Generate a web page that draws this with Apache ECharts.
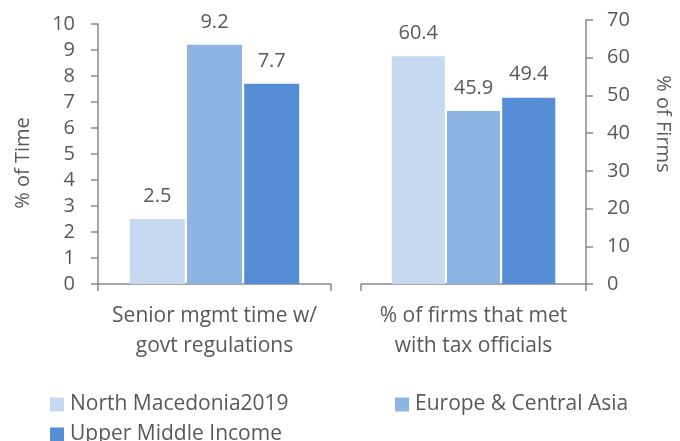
<!DOCTYPE html>
<html>
<head>
<meta charset="utf-8">
<script src="https://cdn.jsdelivr.net/npm/echarts@6/dist/echarts.min.js"></script>
<style>
  html, body { margin: 0; padding: 0; background: #fff; }
  #chart { width: 680px; height: 441px; }
</style>
</head>
<body>
<div id="chart"></div>
<script>
// Series names and colours
const seriesNames = ['North Macedonia2019', 'Europe & Central Asia', 'Upper Middle Income'];
const seriesColors = ['#c6d9f0', '#8eb4e3', '#558ed5'];

// Left panel: time spent on regulations
const timeCategory = ['Senior mgmt time w/\ngovt regulations'];
const timeValues = [2.5, 9.2, 7.7];

// Right panel: meetings with tax officials
const firmsCategory = ['% of firms that met\nwith tax officials'];
const firmsValues = [60.4, 45.9, 49.4];

const FONT = 'Open Sans';
const TXT = '#595959';
const AXIS = '#898989';

const chart = echarts.init(document.getElementById('chart'), null, { renderer: 'canvas' });

function barSeries(values, gridIndex) {
  return values.map((v, i) => ({
    name: seriesNames[i],
    type: 'bar',
    xAxisIndex: gridIndex,
    yAxisIndex: gridIndex,
    data: [v],
    barWidth: '23.6%',
    barGap: '4%',
    itemStyle: { color: seriesColors[i] },
    label: {
      show: true,
      position: 'top',
      distance: 13,
      color: TXT,
      fontFamily: FONT,
      fontSize: 20
    },
    emphasis: { disabled: true }
  }));
}

function xAxisFor(cats, gridIndex) {
  return {
    type: 'category',
    gridIndex: gridIndex,
    data: cats,
    boundaryGap: true,
    axisLine: { show: true, lineStyle: { color: AXIS, width: 1.5 } },
    axisTick: { show: true, length: 7, lineStyle: { color: AXIS, width: 1.5 } },
    axisLabel: {
      color: TXT, fontFamily: FONT, fontSize: 21, lineHeight: 30, margin: 17
    }
  };
}

function legendFor(name, left, top) {
  return {
    data: [name],
    left: left,
    top: top,
    orient: 'horizontal',
    icon: 'rect',
    itemWidth: 14,
    itemHeight: 14,
    itemGap: 6,
    padding: 0,
    selectedMode: false,
    textStyle: { color: TXT, fontFamily: FONT, fontSize: 21, padding: [0, 0, 0, 1] }
  };
}

chart.setOption({
  animation: false,
  backgroundColor: '#ffffff',
  grid: [
    { left: 98, top: 24, width: 233, height: 260 },
    { left: 361, top: 20, width: 225, height: 264 }
  ],
  xAxis: [xAxisFor(timeCategory, 0), xAxisFor(firmsCategory, 1)],
  yAxis: [
    {
      type: 'value', gridIndex: 0, min: 0, max: 10, interval: 1,
      axisLine: { show: true, lineStyle: { color: AXIS, width: 1.5 } },
      axisTick: { show: true, length: 7, lineStyle: { color: AXIS, width: 1.5 } },
      splitLine: { show: false },
      axisLabel: { color: TXT, fontFamily: FONT, fontSize: 20, margin: 23 }
    },
    {
      type: 'value', gridIndex: 1, position: 'right', min: 0, max: 70, interval: 10,
      axisLine: { show: true, lineStyle: { color: AXIS, width: 1.5 } },
      axisTick: { show: true, length: 7, lineStyle: { color: AXIS, width: 1.5 } },
      splitLine: { show: false },
      axisLabel: { color: TXT, fontFamily: FONT, fontSize: 20, margin: 21 }
    }
  ],
  legend: [
    legendFor(seriesNames[0], 50, 394),
    legendFor(seriesNames[1], 395, 394),
    legendFor(seriesNames[2], 50, 424)
  ],
  graphic: [
    {
      type: 'text', x: 23, y: 163, rotation: Math.PI / 2,
      style: { text: '% of Time', fill: TXT, font: '20px "Open Sans"', align: 'center', verticalAlign: 'middle' }
    },
    {
      type: 'text', x: 663, y: 124, rotation: -Math.PI / 2,
      style: { text: '% of Firms', fill: TXT, font: '20px "Open Sans"', align: 'center', verticalAlign: 'middle' }
    }
  ],
  series: [...barSeries(timeValues, 0), ...barSeries(firmsValues, 1)]
});
</script>
</body>
</html>
